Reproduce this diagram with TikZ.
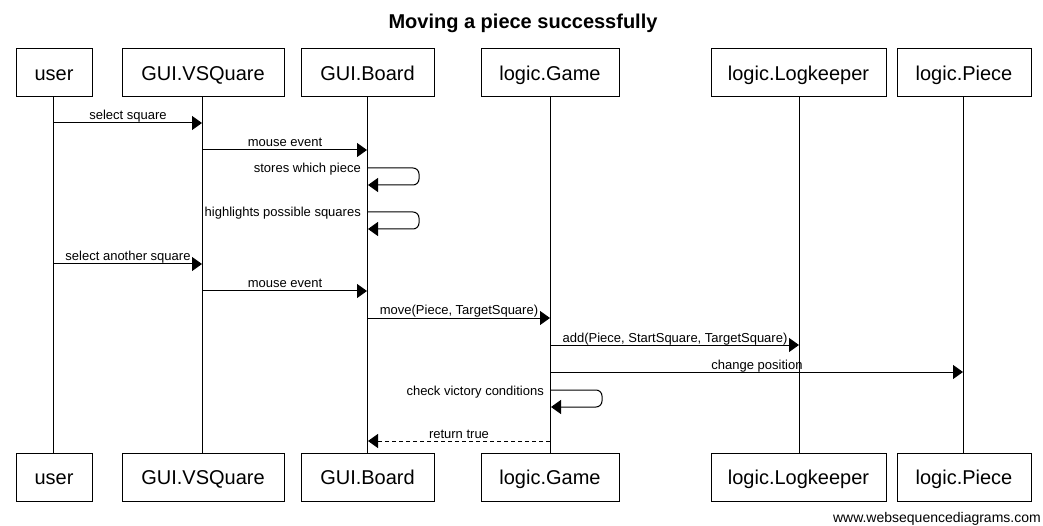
\documentclass[tikz,border=0pt]{standalone}
\usepackage{fontspec}
\setmainfont{Liberation Sans}
\usetikzlibrary{arrows.meta}
\begin{document}
\begin{tikzpicture}[x=1pt,y=-1pt,
  actor/.style={draw, line width=1pt, minimum height=48pt, inner sep=0pt, text height=16.5pt, text depth=2pt, font=\fontsize{20}{24}\selectfont},
  life/.style={line width=1pt},
  msg/.style={line width=1pt, -{Triangle[length=10pt,width=14pt]}},
  ret/.style={msg, dash pattern=on 4pt off 3pt},
  lbl/.style={font=\fontsize{13}{15}\selectfont, inner sep=0pt, anchor=base, midway, yshift=3pt},
  slbl/.style={font=\fontsize{13}{15}\selectfont, inner sep=0pt, anchor=base east}]
\useasboundingbox (0,0) rectangle (1043,526);
\node[font=\bfseries\fontsize{20}{24}\selectfont, anchor=base, inner sep=0pt] (title) at (523,29) {Moving a piece successfully};
% top actors
\node[actor, minimum width=76pt]  (ut) at (54,73)    {user};
\node[actor, minimum width=162pt] (vt) at (203,73)   {GUI.VSQuare};
\node[actor, minimum width=133pt] (bt) at (367.5,73) {GUI.Board};
\node[actor, minimum width=138pt] (gt) at (550,73)   {logic.Game};
\node[actor, minimum width=175pt] (lt) at (798.5,73) {logic.Logkeeper};
\node[actor, minimum width=134pt] (pt) at (964,73)   {logic.Piece};
% bottom actors
\node[actor, minimum width=76pt]  (ub) at (54,477)    {user};
\node[actor, minimum width=162pt] (vb) at (203,477)   {GUI.VSQuare};
\node[actor, minimum width=133pt] (bb) at (367.5,477) {GUI.Board};
\node[actor, minimum width=138pt] (gb) at (550,477)   {logic.Game};
\node[actor, minimum width=175pt] (lb) at (798.5,477) {logic.Logkeeper};
\node[actor, minimum width=134pt] (pb) at (964,477)   {logic.Piece};
% lifelines
\draw[life] (53,97) coordinate (ul1) -- (53,453) coordinate (ul2);
\draw[life] (202,97) coordinate (vl1) -- (202,453) coordinate (vl2);
\draw[life] (367,97) coordinate (bl1) -- (367,453) coordinate (bl2);
\draw[life] (550,97) coordinate (gl1) -- (550,453) coordinate (gl2);
\draw[life] (799,97) coordinate (ll1) -- (799,453) coordinate (ll2);
\draw[life] (963,97) coordinate (pl1) -- (963,453) coordinate (pl2);
% message end points
\coordinate (m1a) at (54,123);  \coordinate (m1b) at (202,123);
\coordinate (m2a) at (203,150); \coordinate (m2b) at (367,150);
\coordinate (s1a) at (368,168); \coordinate (s1c) at (419,185); \coordinate (s1b) at (368,185);
\coordinate (s2a) at (368,212); \coordinate (s2c) at (419,229); \coordinate (s2b) at (368,229);
\coordinate (m3a) at (54,264);  \coordinate (m3b) at (202,264);
\coordinate (m4a) at (203,291); \coordinate (m4b) at (367,291);
\coordinate (m5a) at (368,318); \coordinate (m5b) at (550,318);
\coordinate (m6a) at (551,345); \coordinate (m6b) at (799,345);
\coordinate (m7a) at (551,372); \coordinate (m7b) at (963,372);
\coordinate (s3a) at (551,390); \coordinate (s3c) at (602,407); \coordinate (s3b) at (551,407);
\coordinate (r1a) at (550,441); \coordinate (r1b) at (368,441);
% messages
\draw[msg] (m1a) -- (m1b) node[lbl] {select square};
\draw[msg] (m2a) -- (m2b) node[lbl] {mouse event};
\draw[msg, rounded corners=6pt] (s1a) -| (s1c) -- (s1b);
\node[slbl] (s1l) at (361,173) {stores which piece};
\draw[msg, rounded corners=6pt] (s2a) -| (s2c) -- (s2b);
\node[slbl] (s2l) at (361,217) {highlights possible squares};
\draw[msg] (m3a) -- (m3b) node[lbl] {select another square};
\draw[msg] (m4a) -- (m4b) node[lbl] {mouse event};
\draw[msg] (m5a) -- (m5b) node[lbl] {move(Piece, TargetSquare)};
\draw[msg] (m6a) -- (m6b) node[lbl] {add(Piece, StartSquare, TargetSquare)};
\draw[msg] (m7a) -- (m7b) node[lbl] {change position};
\draw[msg, rounded corners=6pt] (s3a) -| (s3c) -- (s3b);
\node[slbl] (s3l) at (544,395) {check victory conditions};
\draw[ret] (r1a) -- (r1b) node[lbl] {return true};
\node[font=\fontsize{14}{16}\selectfont, anchor=base east, inner sep=0pt] (wm) at (1041,522) {www.websequencediagrams.com};
\end{tikzpicture}
\end{document}
